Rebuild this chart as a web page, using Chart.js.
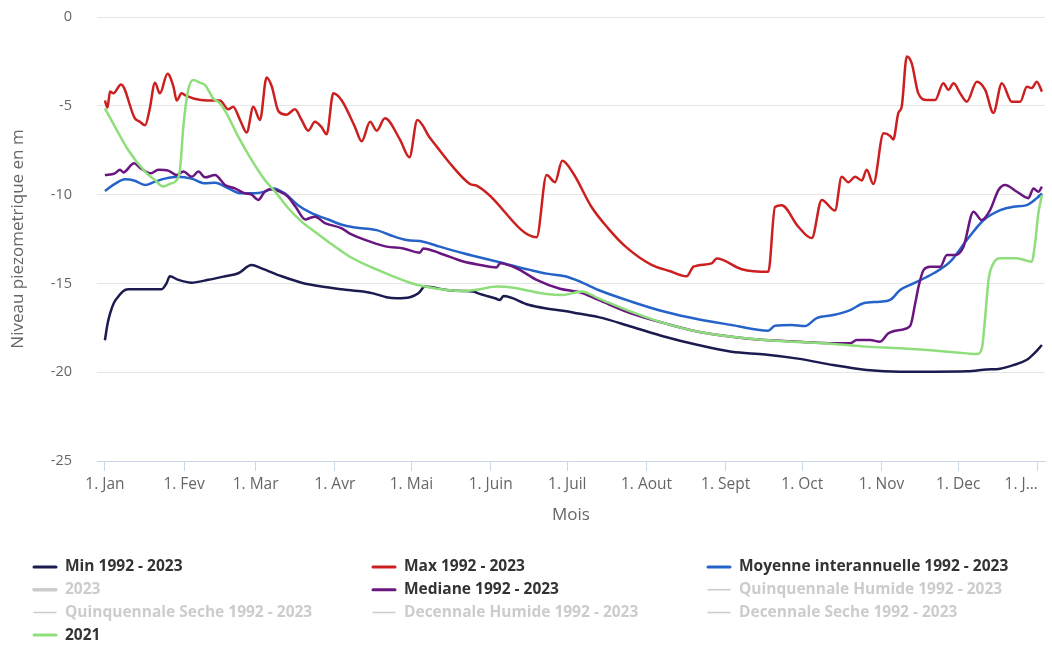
<!DOCTYPE html>
<html lang="fr">
<head>
  <meta charset="UTF-8" />
  <title>Niveau piezometrique</title>
  <script src="https://cdn.jsdelivr.net/npm/chart.js"></script>
  <style>
    * {
      box-sizing: border-box;
      margin: 0;
      padding: 0;
    }

    body {
      background: #fff;
      width: 1052px;
      height: 648px;
      overflow: hidden;
    }

    .chart-box {
      position: relative;
      width: 1052px;
      height: 648px;
    }
  </style>
</head>
<body>

<div class="chart-box">
  <canvas id="niveauChart"></canvas>
</div>

<script>
  // axe des mois (jour de l'annee)
  const moisJours = [0, 31, 59, 90, 120, 151, 181, 212, 243, 273, 304, 334, 365];
  const moisLabels = ["1. Jan", "1. Fev", "1. Mar", "1. Avr", "1. Mai", "1. Juin", "1. Juil",
                      "1. Aout", "1. Sept", "1. Oct", "1. Nov", "1. Dec", "1. J...        "];
  const niveauTicks = [0, -5, -10, -15, -20, -25];

  // series [jour, niveau en m]
  const minSerie = [
    [0, -18.2], [1, -17.3], [2, -16.7], [3.5, -16.1], [5.2, -15.75], [7, -15.45], [9.1, -15.33],
    [15.7, -15.33], [22.2, -15.33], [24.1, -15.0], [25.4, -14.6], [28.7, -14.8], [33.9, -14.96],
    [40.4, -14.8], [47, -14.6], [52.2, -14.43], [57.4, -13.97], [61.3, -14.15], [69.2, -14.6],
    [77, -14.96], [84.8, -15.18], [92.7, -15.33], [101.1, -15.46], [105, -15.56], [110.2, -15.78],
    [114.2, -15.84], [119.4, -15.78], [122.7, -15.56], [125.3, -15.18], [133.8, -15.37],
    [140.3, -15.43], [144.2, -15.45], [146.2, -15.56], [152.7, -15.84], [154.7, -15.93],
    [156, -15.71], [165.8, -16.2], [172.3, -16.4], [180, -16.55], [185.4, -16.7], [193.2, -16.9],
    [206.2, -17.44], [219.2, -18.0], [232.2, -18.47], [245.3, -18.85], [258.4, -19.0],
    [272, -19.25], [285.1, -19.6], [298.2, -19.87], [311.3, -19.97], [324.4, -19.97],
    [337.4, -19.95], [345.2, -19.85], [350.4, -19.8], [355.6, -19.6], [360.9, -19.3],
    [364.1, -18.9], [366.8, -18.47]
  ];

  const maxSerie = [
    [0, -4.7], [1, -5.1], [2, -4.2], [3.3, -4.3], [6.3, -3.8], [11.7, -5.7], [13.7, -5.9],
    [15.7, -6.1], [17.5, -5.2], [19.6, -3.7], [21.5, -4.3], [24.5, -3.2], [26.8, -3.9],
    [28.1, -4.7], [30, -4.3], [31.3, -4.4], [35, -4.6], [40, -4.7], [45, -4.7], [48.3, -5.2],
    [50.2, -5.05], [52.9, -5.8], [55.5, -6.5], [58.1, -5.05], [60.7, -5.8], [63.3, -3.4],
    [65.3, -3.9], [67.9, -5.3], [71.1, -5.5], [74.4, -5.2], [77, -5.8], [79.6, -6.4],
    [82.2, -5.9], [84.8, -6.2], [86.8, -6.6], [89.4, -4.3], [92.7, -4.7], [97.9, -6.2],
    [100.5, -7.0], [103.8, -5.9], [106.4, -6.4], [109.6, -5.7], [115.5, -6.9], [119.2, -7.9],
    [122.3, -5.8], [127.2, -6.8], [129.9, -7.3], [136, -8.4], [142.9, -9.4], [145.5, -9.5],
    [149.4, -9.9], [169, -12.4], [172.9, -8.9], [176.2, -9.3], [179, -8.1], [183.3, -8.8],
    [190.5, -10.7], [197, -11.9], [203.6, -12.9], [214, -13.96], [221, -14.3], [227.7, -14.6],
    [230.4, -14.06], [237.5, -13.87], [239.5, -13.6], [249.3, -14.2], [259.7, -14.35],
    [262.3, -10.7], [264.9, -10.6], [271.4, -11.8], [276.7, -12.45], [280.6, -10.3],
    [285.8, -10.9], [288.4, -9.0], [291, -9.3], [293.7, -9.0], [296.3, -9.2], [298.2, -8.6],
    [300.8, -9.4], [304.8, -6.55], [307.4, -6.7], [308.6, -6.9], [310.6, -5.4], [311.9, -5.05],
    [313.9, -2.23], [315.8, -2.6], [318.4, -4.3], [321.7, -4.67], [325, -4.67], [328.2, -3.73],
    [330.2, -4.1], [332.2, -3.73], [334.8, -4.3], [337.4, -4.77], [341.3, -3.64], [344.6, -4.1],
    [347.8, -5.4], [351.1, -3.73], [355, -4.77], [358.3, -4.77], [360.9, -3.93], [362.8, -4.0],
    [364.8, -3.64], [366.8, -4.2]
  ];

  const moyenneSerie = [
    [0, -9.8], [3.9, -9.4], [7.8, -9.14], [11.7, -9.22], [15.7, -9.46], [19.6, -9.27],
    [23.5, -9.1], [28.7, -9.0], [33.9, -9.1], [39.2, -9.36], [43.1, -9.33], [48.3, -9.65],
    [53.5, -9.93], [58.7, -9.93], [62.6, -9.83], [65.9, -9.65], [70.4, -9.93], [75.6, -10.6],
    [80.9, -11.05], [87.4, -11.4], [92.7, -11.7], [98, -11.85], [106.4, -12.0], [112, -12.3],
    [118.1, -12.56], [124.6, -12.65], [131.1, -12.93], [140.3, -13.3], [153.3, -13.77],
    [166.4, -14.24], [173, -14.45], [180.1, -14.6], [186, -14.9], [193.2, -15.37],
    [206.2, -16.03], [219.2, -16.6], [232.2, -17.02], [245.3, -17.34], [259.7, -17.66],
    [262.3, -17.38], [268.8, -17.34], [274, -17.4], [278.6, -16.95], [285.1, -16.78],
    [291.7, -16.5], [296.9, -16.12], [303.4, -16.03], [307.4, -15.93], [311.3, -15.37],
    [316.5, -15.0], [324.4, -14.43], [330.9, -13.78], [337.4, -12.56], [344, -11.43],
    [350.5, -10.87], [355.7, -10.68], [360.9, -10.59], [364.8, -10.2], [366.8, -9.93]
  ];

  const medianeSerie = [
    [0, -8.9], [3.9, -8.8], [5.9, -8.6], [7.2, -8.75], [11.4, -8.24], [14, -8.52], [18, -8.8],
    [20.9, -8.6], [24.8, -8.65], [28.1, -8.9], [30.7, -8.7], [34, -9.0], [36.6, -8.7],
    [39.2, -9.03], [43.1, -8.9], [47, -9.46], [50.9, -9.65], [54.8, -9.93], [57.4, -10.0],
    [60, -10.3], [62.6, -9.83], [64.6, -9.7], [68, -9.8], [71.5, -10.1], [74.7, -10.7],
    [78.5, -11.4], [80.5, -11.3], [82.2, -11.25], [86.1, -11.6], [92.7, -11.9], [95.9, -12.2],
    [103.8, -12.65], [110.2, -12.93], [116.8, -13.03], [123.3, -13.27], [124.6, -13.03],
    [131.1, -13.3], [140.3, -13.77], [146.8, -13.96], [153.3, -14.1], [154.7, -13.87],
    [161.2, -14.15], [169, -14.8], [178.1, -15.3], [186, -15.5], [193.2, -15.93],
    [206.2, -16.7], [219.2, -17.25], [232.2, -17.72], [245.3, -18.0], [258.4, -18.19],
    [271.4, -18.28], [285.1, -18.37], [291.7, -18.37], [294.3, -18.19], [299.5, -18.19],
    [303.4, -18.28], [306.7, -17.81], [311.3, -17.62], [315.2, -17.4], [317.2, -16.12],
    [318.5, -15.18], [320.5, -14.24], [323.1, -14.06], [327, -14.06], [329.6, -13.4],
    [332.8, -13.4], [336.1, -12.93], [340, -10.96], [343.2, -11.43], [346.5, -10.87],
    [349.8, -9.74], [352.4, -9.46], [357, -9.84], [361.5, -10.2], [363.5, -9.65],
    [365.4, -9.84], [366.8, -9.55]
  ];

  const serie2021 = [
    [0, -5.14], [3.9, -6.17], [9.1, -7.49], [15.7, -8.71], [19.6, -9.18], [22.8, -9.55],
    [25.4, -9.4], [28.1, -9.18], [29.4, -8.6], [30.7, -6.17], [32.6, -4.11], [34.6, -3.55],
    [37.2, -3.7], [39.2, -3.83], [42.4, -4.58], [45, -4.86], [47.6, -5.42], [52.2, -6.74],
    [57.4, -8.05], [62.6, -9.18], [66.6, -9.83], [71.8, -10.77], [77, -11.52], [82.2, -12.09],
    [87.4, -12.65], [95.9, -13.5], [103.8, -14.06], [111.6, -14.53], [119.4, -14.96],
    [125.3, -15.18], [133.8, -15.37], [140.3, -15.43], [146.8, -15.33], [153.3, -15.18],
    [159.9, -15.24], [166.4, -15.43], [172.9, -15.6], [179.4, -15.65], [186.6, -15.45],
    [193.2, -15.84], [206.2, -16.6], [219.2, -17.25], [232.2, -17.72], [245.3, -18.0],
    [258.4, -18.19], [272, -18.3], [285.1, -18.41], [298.2, -18.56], [311.3, -18.65],
    [324.4, -18.78], [337.4, -18.94], [341.3, -18.98], [343.3, -18.65], [344.6, -16.87],
    [345.9, -14.8], [347.8, -13.87], [350.5, -13.59], [357, -13.59], [362.8, -13.78],
    [364.1, -12.75], [365.4, -11.06], [366.8, -10.03]
  ];

  const toXY = serie => serie.map(([x, y]) => ({ x, y }));

  function ligne(label, serie, color, order) {
    return {
      label,
      data: toXY(serie),
      borderColor: color,
      backgroundColor: color,
      borderWidth: 2.5,
      pointRadius: 0,
      fill: false,
      cubicInterpolationMode: 'monotone',
      order
    };
  }

  function masquee(label, epais) {
    return { label, data: [], hidden: true, borderColor: '#ccc', legendWidth: epais };
  }

  // legende en grille de 3 colonnes, comme l'original
  const legendeCols = [33, 372, 707];
  const legendeGrille = {
    id: 'legendeGrille',
    afterDraw(chart) {
      const ctx = chart.ctx;
      ctx.save();
      ctx.font = "bold 15.5px 'Open Sans', sans-serif";
      ctx.textBaseline = 'middle';
      ctx.lineCap = 'round';
      chart.data.datasets.forEach((ds, i) => {
        const x = legendeCols[i % 3];
        const y = 567 + Math.floor(i / 3) * 22.7;
        ctx.strokeStyle = ds.hidden ? '#ccc' : ds.borderColor;
        ctx.lineWidth = ds.hidden ? (ds.legendWidth || 1.5) : 3;
        ctx.beginPath();
        ctx.moveTo(x + 1, y);
        ctx.lineTo(x + 23, y);
        ctx.stroke();
        ctx.fillStyle = ds.hidden ? '#ccc' : '#333';
        ctx.fillText(ds.label, x + 32, y);
      });
      ctx.restore();
    }
  };

  Chart.defaults.font.family = "'Open Sans', sans-serif";

  const ctx = document.getElementById('niveauChart').getContext('2d');
  new Chart(ctx, {
    type: 'line',
    data: {
      datasets: [
        ligne('Min 1992 - 2023', minSerie, '#1b1b50', 6),
        ligne('Max 1992 - 2023', maxSerie, '#cc2020', 5),
        ligne('Moyenne interannuelle 1992 - 2023', moyenneSerie, '#2563c9', 4),
        masquee('2023', 3.5),
        ligne('Mediane 1992 - 2023', medianeSerie, '#6a1680', 3),
        masquee('Quinquennale Humide 1992 - 2023'),
        masquee('Quinquennale Seche 1992 - 2023'),
        masquee('Decennale Humide 1992 - 2023'),
        masquee('Decennale Seche 1992 - 2023'),
        ligne('2021', serie2021, '#8ede7b', 1)
      ]
    },
    options: {
      responsive: true,
      maintainAspectRatio: false,
      animation: false,
      devicePixelRatio: 1,
      layout: {
        padding: { left: 0, right: 7, top: 17, bottom: 117 }
      },
      plugins: {
        legend: { display: false },
        tooltip: { enabled: false }
      },
      scales: {
        x: {
          type: 'linear',
          min: -3.1,
          max: 368,
          afterBuildTicks: scale => {
            scale.ticks = moisJours.map(v => ({ value: v }));
          },
          afterFit: scale => {
            scale.height = 70;
            scale.paddingLeft = 0;
            scale.paddingRight = 0;
          },
          grid: {
            drawOnChartArea: false,
            drawTicks: true,
            tickLength: 10,
            color: '#ccd6eb'
          },
          border: { display: true, color: '#ccd6eb' },
          ticks: {
            autoSkip: false,
            maxRotation: 0,
            color: '#666',
            padding: 4,
            font: { size: 15.5 },
            callback: value => moisLabels[moisJours.indexOf(value)]
          },
          title: {
            display: true,
            text: 'Mois',
            color: '#666',
            font: { size: 17 },
            padding: { top: 0, bottom: 6 }
          }
        },
        y: {
          min: -25,
          max: 0,
          afterBuildTicks: scale => {
            scale.ticks = niveauTicks.map(v => ({ value: v }));
          },
          afterFit: scale => {
            scale.width = 97;
            scale.paddingTop = 0;
            scale.paddingBottom = 0;
          },
          grid: {
            color: '#e6e6e6',
            drawTicks: false
          },
          border: { display: false },
          ticks: {
            color: '#666',
            padding: 25,
            font: { size: 14.5 }
          },
          title: {
            display: true,
            text: 'Niveau piezometrique en m',
            color: '#666',
            font: { size: 17 },
            padding: { top: 8, bottom: 0 }
          }
        }
      }
    },
    plugins: [legendeGrille]
  });
</script>

</body>
</html>
